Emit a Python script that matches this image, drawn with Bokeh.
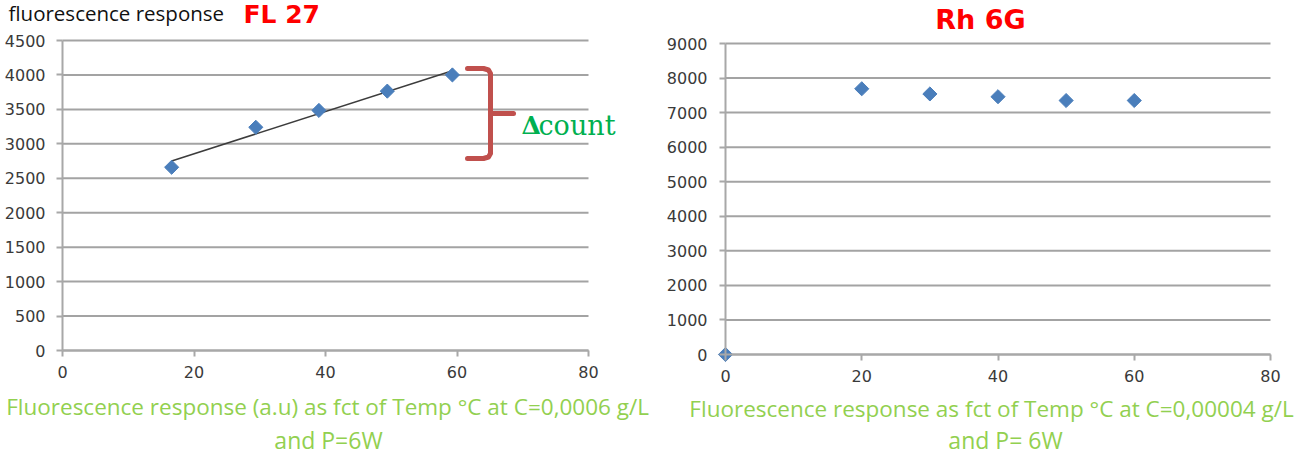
import numpy as np
from bokeh.plotting import figure
from bokeh.layouts import row
from bokeh.models import Range1d, FixedTicker, Label
from bokeh.embed import file_html
from bokeh.resources import INLINE

# ---------------- data ----------------
fl27_temp = [16.6, 29.4, 39.0, 49.4, 59.3]
fl27_counts = [2660, 3240, 3485, 3765, 4000]

rh6g_temp = [0, 20, 30, 40, 50, 60]
rh6g_counts = [0, 7690, 7540, 7460, 7350, 7350]

x_ticks = [0, 20, 40, 60, 80]
fl27_y_ticks = [0, 500, 1000, 1500, 2000, 2500, 3000, 3500, 4000, 4500]
rh6g_y_ticks = [0, 1000, 2000, 3000, 4000, 5000, 6000, 7000, 8000, 9000]

left_title = "fluorescence response"
left_name = "FL 27"
right_name = "Rh 6G"
left_xlabel = ["Fluorescence response (a.u)  as fct of Temp °C at C=0,0006 g/L", "and P=6W"]
right_xlabel = ["Fluorescence response as fct of Temp °C at C=0,00004 g/L", "and P= 6W"]

MARKER = "#4A7EBB"
GRID = "#a3a3a3"
AXIS = "#a8a8a8"
GREEN = "#92D050"
H = 463
TEXT_SHIFT = -8  # vertical correction for label baselines (pixels)


def make_fig(width, xmax, ymax, yticks, fl, fr, ft, fb, standoff_y):
    """Figure whose frame fills the whole canvas; the data area 0..xmax / 0..ymax
    occupies pixels fl..fr (x) and ft..fb (y, from top)."""
    sx = xmax / (fr - fl)
    sy = ymax / (fb - ft)
    p = figure(width=width, height=H,
               x_range=Range1d(-fl * sx, xmax + (width - fr) * sx),
               y_range=Range1d(-(H - fb) * sy, ymax + ft * sy),
               output_backend="svg", toolbar_location=None,
               min_border=0, min_border_left=0, min_border_right=0,
               min_border_top=0, min_border_bottom=0)
    p.title.visible = False
    p.outline_line_color = None
    p.background_fill_color = "white"
    p.border_fill_color = "white"
    p.xgrid.visible = False
    p.ygrid.visible = False
    # horizontal gridlines at the y ticks, spanning the x data range
    p.segment(x0=0, x1=xmax, y0=yticks, y1=yticks, line_color=GRID, line_width=2)
    p.yaxis.ticker = FixedTicker(ticks=yticks)
    p.xaxis.ticker = FixedTicker(ticks=x_ticks)
    p.xaxis.fixed_location = 0
    p.yaxis.fixed_location = 0
    p.xaxis.bounds = (0, xmax)
    p.yaxis.bounds = (0, ymax)
    for ax in p.axis:
        ax.axis_line_color = AXIS
        ax.axis_line_width = 2
        ax.major_tick_line_color = AXIS
        ax.major_tick_line_width = 2
        ax.major_tick_out = 6
        ax.major_tick_in = 0
        ax.minor_tick_line_color = None
        ax.major_label_text_font = "DejaVu Sans"
        ax.major_label_text_font_size = "16px"
        ax.major_label_text_color = "#3a3a3a"
    p.yaxis.major_label_standoff = standoff_y
    p.xaxis.major_label_standoff = 9
    fx = lambda px: (px - fl) * sx
    fy = lambda py: (fb - py) * sy
    return p, fx, fy


def add_label(p, fx, fy, px, py, text, font, size, color, align="left", style="normal"):
    p.add_layout(Label(x=fx(px), y=fy(py + TEXT_SHIFT), text=text, text_font=font,
                       text_font_size=size, text_color=color, text_align=align,
                       text_baseline="alphabetic", text_font_style=style))


# ---------------- left chart (FL 27) ----------------
L, lx, ly = make_fig(660, 80, 4500, fl27_y_ticks, 62, 588, 40, 350, 11)

slope, intercept = np.polyfit(fl27_temp, fl27_counts, 1)
tx = [min(fl27_temp), max(fl27_temp)]
L.line(tx, [slope * t + intercept for t in tx], line_color="#3c3c3c", line_width=1.5)
L.scatter(fl27_temp, fl27_counts, marker="square", angle=np.pi / 4, size=10,
          fill_color=MARKER, line_color=MARKER, line_width=1)

# red brace
brace_px = [(467, 68), (483, 68), (488, 69.5), (490, 73), (490, 153),
            (488, 156.5), (483, 158), (467, 158)]
L.line([lx(a) for a, b in brace_px], [ly(b) for a, b in brace_px],
       line_color="#C0504D", line_width=5, line_join="round", line_cap="round")
L.line([lx(490), lx(513)], [ly(113), ly(113)],
       line_color="#C0504D", line_width=5, line_cap="round")

add_label(L, lx, ly, 8, 20, left_title, "Open Sans", "20.5px", "#111111")
add_label(L, lx, ly, 243, 22, left_name, "DejaVu Sans", "25px", "#FF0000", style="bold")
add_label(L, lx, ly, 521, 133, "Δ", "DejaVu Serif", "25px", "#00B050", style="bold")
add_label(L, lx, ly, 538, 133, "count", "DejaVu Serif", "27px", "#00B050")
add_label(L, lx, ly, 330, 414, left_xlabel[0], "Open Sans", "22.5px", GREEN, align="center")
add_label(L, lx, ly, 328, 447, left_xlabel[1], "Open Sans", "23px", GREEN, align="center")

# ---------------- right chart (Rh 6G) ----------------
R, rx, ry = make_fig(648, 80, 9000, rh6g_y_ticks, 65, 610, 43, 354, 12)

R.scatter(rh6g_temp, rh6g_counts, marker="square", angle=np.pi / 4, size=10,
          fill_color=MARKER, line_color=MARKER, line_width=1)

add_label(R, rx, ry, 320, 27, right_name, "DejaVu Sans", "27px", "#FF0000", align="center", style="bold")
add_label(R, rx, ry, 331, 416, right_xlabel[0], "Open Sans", "22.5px", GREEN, align="center")
add_label(R, rx, ry, 345, 447, right_xlabel[1], "Open Sans", "23px", GREEN, align="center")

layout = row(L, R)
open("out.html", "w").write(file_html(layout, INLINE))
